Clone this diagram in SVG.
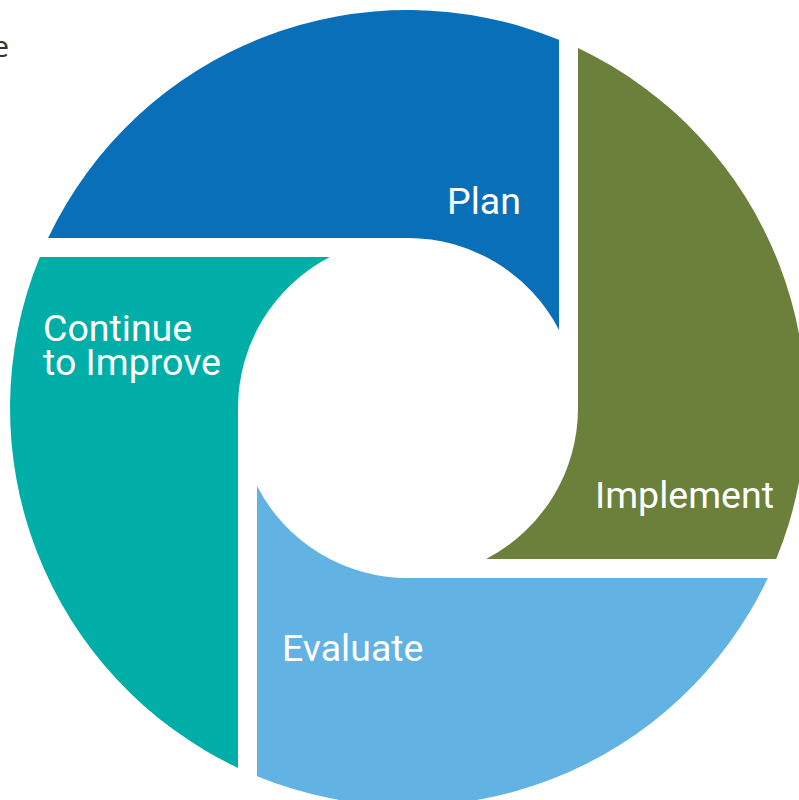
<svg xmlns="http://www.w3.org/2000/svg" width="799" height="800" viewBox="0 0 799 800">
<style>
.lbl{font-family:Roboto,"Liberation Sans",sans-serif;font-size:37.5px;fill:#ffffff}
</style>
<rect width="799" height="800" fill="#ffffff"/>
<text x="9" y="57" text-anchor="end" style="font-family:'Open Sans','Liberation Sans',sans-serif;font-size:30px;fill:#333333">e</text>
<g id="plan">
<path d="M408,238 L48.1,238 A398,398 0 0,1 559,39.8 L559,329.9 A170,170 0 0,0 408,238 Z" fill="#0a6fb9"/>
<text class="lbl" x="447" y="214">Plan</text>
</g>
<g id="implement">
<path d="M578,408 L578,48.1 A398,398 0 0,1 776.2,559 L486.1,559 A170,170 0 0,0 578,408 Z" fill="#6a803b"/>
<text class="lbl" x="595" y="508">Implement</text>
</g>
<g id="evaluate">
<path d="M408,578 L767.9,578 A398,398 0 0,1 257,776.2 L257,486.1 A170,170 0 0,0 408,578 Z" fill="#62b3e3"/>
<text class="lbl" x="282" y="661">Evaluate</text>
</g>
<g id="continue">
<path d="M238,408 L238,767.9 A398,398 0 0,1 39.8,257 L329.9,257 A170,170 0 0,0 238,408 Z" fill="#00aea8"/>
<text class="lbl" x="43" y="341">Continue</text>
<text class="lbl" x="43" y="375">to Improve</text>
</g>
<g id="connectors"></g>
</svg>
